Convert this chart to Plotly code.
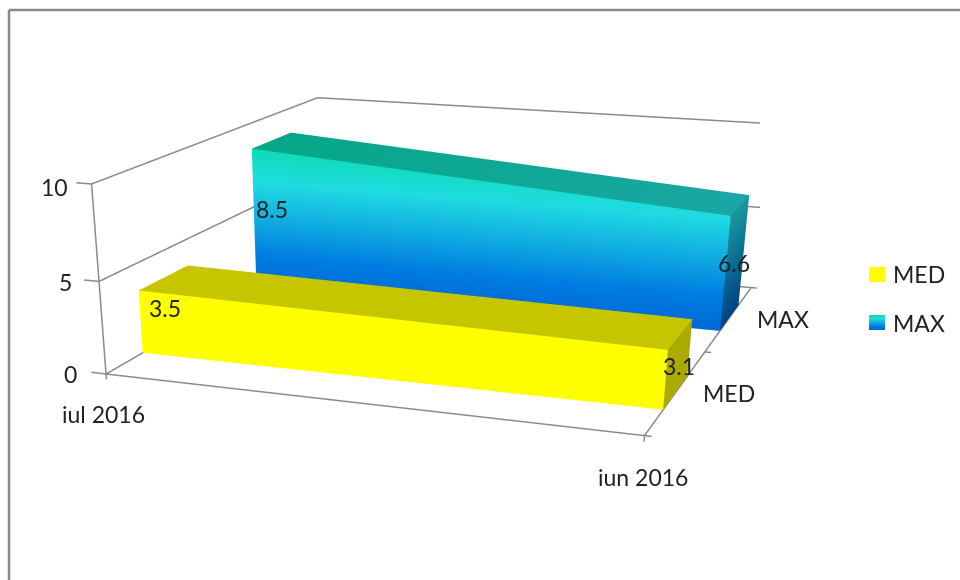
import numpy as np
import plotly.graph_objects as go

# Chart data
categories = ["iul 2016", "iun 2016"]
series_names = ["MED", "MAX"]
med_values = [3.5, 3.1]
max_values = [8.5, 6.6]
z_ticks = [0, 5, 10]

# Page geometry: the tall canvas gives the scene a long focal length,
# only its upper 580 px are visible in the window.
WIDTH = 960
HEIGHT = 1435
SCENE_RIGHT = 760 / WIDTH
PAD = 1.1  # axis ranges extend past the box so the tick marks are not clipped

ASPECT = dict(x=2.957 * PAD, y=3.086 * PAD, z=PAD)
EYE = dict(x=3.079, y=-9.608, z=2.253)
CENTER = dict(x=0.376, y=-2.288, z=-1.891)

# Depth extent of each slab along the series axis
MED_DEPTH = (0.14, 0.34)
MAX_DEPTH = (0.65, 0.85)

GREY = "#8a8a8a"
FONT = dict(family="Lato", size=23, color="#222222")


def page(xp, yp):
    """Window pixels to paper fractions."""
    return xp / WIDTH, 1 - yp / HEIGHT


def rgb(c):
    return "rgb(%d,%d,%d)" % tuple(int(round(v)) for v in c)


def blue_ramp(z):
    stops = [(0, (0, 105, 215)), (2, (0, 125, 225)), (6.5, (32, 220, 225)), (8.5, (12, 220, 180))]
    for (a, ca), (b, cb) in zip(stops, stops[1:]):
        if z <= b:
            t = (z - a) / (b - a)
            return tuple(ca[i] + (cb[i] - ca[i]) * t for i in range(3))
    return stops[-1][1]


def face(p00, p10, p01, p11, colour, nu=1, nv=1):
    """One face of a slab as a vertex-coloured, unlit mesh."""
    p00, p10, p01, p11 = map(np.array, (p00, p10, p01, p11))
    xs, ys, zs, cols, i, j, k = [], [], [], [], [], [], []
    for a in range(nu + 1):
        for b in range(nv + 1):
            u, v = a / nu, b / nv
            q = (1 - u) * (1 - v) * p00 + u * (1 - v) * p10 + (1 - u) * v * p01 + u * v * p11
            xs.append(q[0]); ys.append(q[1]); zs.append(q[2]); cols.append(rgb(colour(q)))
    n = lambda s, t: s * (nv + 1) + t
    for a in range(nu):
        for b in range(nv):
            i += [n(a, b), n(a, b)]
            j += [n(a + 1, b), n(a + 1, b + 1)]
            k += [n(a + 1, b + 1), n(a, b + 1)]
    return go.Mesh3d(x=xs, y=ys, z=zs, i=i, j=j, k=k, vertexcolor=cols, showscale=False,
                     hoverinfo="skip",
                     lighting=dict(ambient=1, diffuse=0, specular=0, roughness=1, fresnel=0))


fig = go.Figure()


def add_slab(values, depth, front, top, side):
    a, b = values
    y0, y1 = depth
    fig.add_trace(face((0, y0, 0), (1, y0, 0), (0, y0, a), (1, y0, b), front, 24, 24))
    fig.add_trace(face((0, y0, a), (1, y0, b), (0, y1, a), (1, y1, b), top, 12, 1))
    fig.add_trace(face((1, y0, 0), (1, y1, 0), (1, y0, b), (1, y1, b), side, 1, 16))


add_slab(med_values, MED_DEPTH,
         lambda q: (255, 255, 0), lambda q: (198, 198, 0), lambda q: (170, 170, 0))
add_slab(max_values, MAX_DEPTH,
         lambda q: blue_ramp(q[2]),
         lambda q: (5 + 20 * q[0], 167, 135 + 30 * q[0]),
         lambda q: (25 * q[2] / 6.6, 65 + 87 * q[2] / 6.6, 132 + 28 * q[2] / 6.6))


def line(points):
    a = np.array(points, float)
    fig.add_trace(go.Scatter3d(x=a[:, 0], y=a[:, 1], z=a[:, 2], mode="lines",
                               line=dict(color=GREY, width=3), hoverinfo="skip", showlegend=False))


# Gridlines on the two back walls, then the axis lines and their tick marks
for z in z_ticks:
    line([(0, 0, z), (0, 1, z), (1, 1, z)])
    line([(-0.03, 0, z), (0, 0, z)])
line([(0, 0, 0), (0, 0, max(z_ticks))])
line([(0, 0, -0.3), (0, 0, 0), (1, 0, 0), (1, 0, -0.3)])
line([(1, 0, 0), (1, 1, 0)])
for y in (0, 0.5, 1):
    line([(1, y, 0), (1.012, y, 0)])
line([(1, 1, 5), (1.012, 1, 5)])


def label(x, y, z, text, dx, dy):
    return dict(x=x, y=y, z=z, text=text, showarrow=False, xanchor="center", yanchor="middle",
                xshift=dx, yshift=-dy, font=FONT)


scene_labels = [
    label(0, 0, 10, "10", -37, 3), label(0, 0, 5, "5", -33, 1), label(0, 0, 0, "0", -36, 0),
    label(0, 0, 0, categories[0], -3, 40), label(1, 0, 0, categories[1], -2, 41),
    label(1, 0.25, 0, series_names[0], 52, 2), label(1, 0.75, 0, series_names[1], 54, 1),
    label(0, MAX_DEPTH[0], max_values[0], f"{max_values[0]}", 20, 60),
    label(0, MED_DEPTH[0], med_values[0], f"{med_values[0]}", 26, 17),
    label(1, MAX_DEPTH[0], max_values[1], f"{max_values[1]}", 3, 47),
    label(1, MED_DEPTH[0], med_values[1], f"{med_values[1]}", 11, 16),
]

hidden = dict(visible=False)
fig.update_layout(
    width=WIDTH, height=HEIGHT, autosize=False, margin=dict(l=0, r=0, t=0, b=0),
    paper_bgcolor="white", showlegend=False,
    scene=dict(
        domain=dict(x=[0, SCENE_RIGHT], y=[0, 1]),
        xaxis=dict(range=[-0.05, 1.05], **hidden),
        yaxis=dict(range=[-0.05, 1.05], **hidden),
        zaxis=dict(range=[-0.5, 10.5], **hidden),
        aspectmode="manual", aspectratio=ASPECT,
        camera=dict(eye=EYE, center=CENTER, up=dict(x=0, y=0, z=1),
                    projection=dict(type="perspective")),
        annotations=scene_labels, bgcolor="white",
    ),
)

# Chart-area border: only the top and left edges fall inside the window
fx, fy = page(9, 10)
_, fbottom = page(0, 580)
for x0, y0, x1, y1 in ((fx, fy, 1, fy), (fx, fy, fx, fbottom)):
    fig.add_shape(type="line", xref="paper", yref="paper", x0=x0, y0=y0, x1=x1, y1=y1,
                  line=dict(color=GREY, width=2.5))


def swatch(x0, y0, x1, y1, colour):
    a, b = page(x0, y0)
    c, d = page(x1, y1)
    fig.add_shape(type="rect", xref="paper", yref="paper", x0=a, y0=b, x1=c, y1=d,
                  fillcolor=colour, line=dict(width=0))


# Legend
swatch(869, 267, 885, 282, "rgb(255,255,0)")
for row in range(15):
    swatch(869, 315 + row, 885, 316 + row, rgb(blue_ramp(8.5 * (1 - row / 14))))
for name, yy in zip(series_names, (274, 323)):
    a, b = page(891, yy)
    fig.add_annotation(xref="paper", yref="paper", x=a, y=b, text=name, showarrow=False,
                       xanchor="left", yanchor="middle", font=FONT)

fig.write_html("out.html")
